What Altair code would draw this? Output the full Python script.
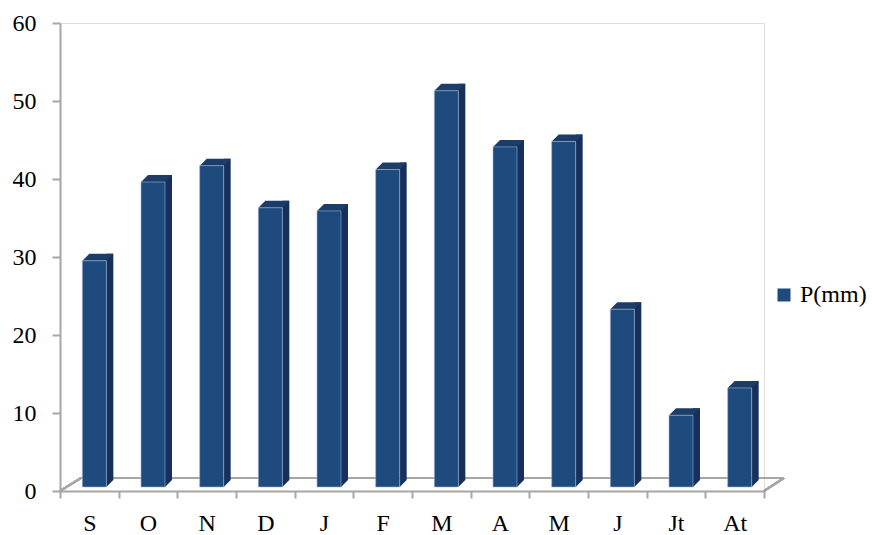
import json
import altair as alt
import pandas as pd

months = ["S", "O", "N", "D", "J", "F", "M", "A", "M", "J", "Jt", "At"]
precip = [29.0, 39.1, 41.2, 35.8, 35.4, 40.7, 50.8, 43.6, 44.3, 22.8, 9.2, 12.7]
series_name = "P(mm)"
y_ticks = [0, 10, 20, 30, 40, 50, 60]

df = pd.DataFrame({
    "idx": list(range(len(months))),
    "value": precip,
    "series": [series_name] * len(months),
})

FONT = "Liberation Serif"
FRONT = "#1f4a7e"
SIDE = "#15305a"
TOP = "#1c3c69"
GRID = "#a6a6a6"
W, H = 704, 468

label_expr = json.dumps(months) + "[datum.value]"

x_enc = alt.X(
    "idx:O",
    scale=alt.Scale(paddingInner=0, paddingOuter=0),
    axis=alt.Axis(
        title=None, labelExpr=label_expr, labelAngle=0, labelFont=FONT,
        labelFontSize=24, labelColor="#000000", labelPadding=13,
        tickSize=7, tickColor=GRID, tickWidth=2, tickBand="extent",
        domainColor=GRID, domainWidth=2,
    ),
)
y_scale = alt.Scale(domain=[0, 60], nice=False)
y_enc = alt.Y(
    "value:Q", scale=y_scale,
    axis=alt.Axis(
        title=None, values=y_ticks, grid=False, labelFont=FONT, labelFontSize=24,
        labelColor="#000000", labelPadding=16, tickSize=8, tickColor=GRID,
        tickWidth=2, domainColor=GRID, domainWidth=2,
    ),
)

base = alt.Chart(df)

# floor (3D base) outline
floor_back = base.mark_rule(color=GRID, strokeWidth=2).encode(
    x=alt.value(21), x2=alt.value(724), y=alt.value(H - 13)
)
floor_left = base.mark_rule(color=GRID, strokeWidth=2).encode(
    x=alt.value(0), x2=alt.value(21), y=alt.value(H), y2=alt.value(H - 13)
)
floor_right = base.mark_rule(color=GRID, strokeWidth=2).encode(
    x=alt.value(W), x2=alt.value(724), y=alt.value(H), y2=alt.value(H - 13)
)

side = base.mark_bar(size=7, xOffset=20.5, yOffset=-11, y2Offset=-11, color=SIDE).encode(
    x=x_enc, y=y_enc, y2=alt.datum(0)
)
bottom_tri = base.mark_point(
    shape="M12,0 L12,-7 L19,-7 Z", size=4, filled=True, opacity=1,
    color=SIDE, xOffset=5, yOffset=-4, strokeWidth=0,
).encode(x=x_enc, y=alt.Y("zero:Q", scale=y_scale)).transform_calculate(zero="0")
top_face = base.mark_point(
    shape="M-12,0 L12,0 L19,-7 L-5,-7 Z", size=4, filled=True, opacity=1,
    color=TOP, xOffset=5, yOffset=-4, strokeWidth=0,
).encode(x=x_enc, y=y_enc)
front = base.mark_bar(
    size=24, xOffset=5, yOffset=-4, y2Offset=-4, stroke="#9fb3d0", strokeWidth=0.6
).encode(
    x=x_enc, y=y_enc, y2=alt.datum(0),
    color=alt.Color(
        "series:N", scale=alt.Scale(range=[FRONT]),
        legend=alt.Legend(
            title=None, orient="none", legendX=712, legendY=260, padding=0,
            symbolType="square", symbolSize=169, symbolStrokeWidth=0,
            labelFont=FONT, labelFontSize=24, labelColor="#000000", labelOffset=4,
        ),
    ),
)

chart = alt.layer(
    floor_back, floor_left, floor_right, side, bottom_tri, top_face, front
).properties(
    width=W, height=H,
    autosize=alt.AutoSizeParams(type="none"),
    padding={"left": 60, "top": 23, "right": 108, "bottom": 44},
).configure_view(stroke=None).configure(background="white")

chart.save("out.html", embed_options={"renderer": "svg", "actions": False})
